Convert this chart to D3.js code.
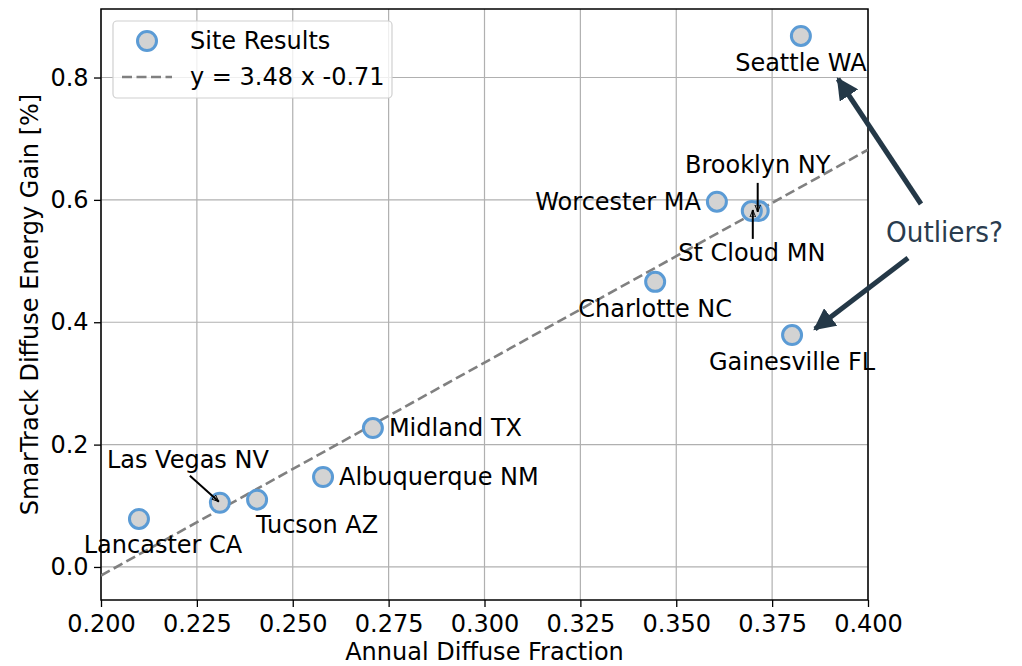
<!DOCTYPE html>
<html>
<head>
<meta charset="utf-8">
<script src="https://cdn.jsdelivr.net/npm/d3@7"></script>
<style>
  body { margin: 0; background: #fff; }
  svg text { font-family: "DejaVu Sans", sans-serif; fill: #000; }
</style>
</head>
<body>
<svg id="chart" width="1022" height="666"></svg>
<script>
// site data
var sites = ["Seattle WA", "Worcester MA", "Brooklyn NY", "St Cloud MN", "Charlotte NC",
             "Gainesville FL", "Midland TX", "Albuquerque NM", "Tucson AZ", "Las Vegas NV", "Lancaster CA"];
var diffuseFraction = [0.3825, 0.3606, 0.3715, 0.3697, 0.3445, 0.3802, 0.2709, 0.2579, 0.2407, 0.2310, 0.2099];
var energyGain = [0.868, 0.597, 0.582, 0.582, 0.466, 0.379, 0.227, 0.147, 0.110, 0.105, 0.0785];

var xTicks = [0.200, 0.225, 0.250, 0.275, 0.300, 0.325, 0.350, 0.375, 0.400];
var yTicks = [0.0, 0.2, 0.4, 0.6, 0.8];
var fitSlope = 3.48, fitIntercept = -0.71;

// label placement (offsets in px from the point)
var labelPos = {
  "Seattle WA":     {dx: 0,   dy: 27,  anchor: "middle"},
  "Worcester MA":   {dx: -16, dy: 0,   anchor: "end"},
  "Brooklyn NY":    {dx: -1,  dy: -46, anchor: "middle", arrow: true},
  "St Cloud MN":    {dx: 0,   dy: 42,  anchor: "middle", arrow: true},
  "Charlotte NC":   {dx: 0,   dy: 27,  anchor: "middle"},
  "Gainesville FL": {dx: 0,   dy: 27,  anchor: "middle"},
  "Midland TX":     {dx: 16,  dy: 0,   anchor: "start"},
  "Albuquerque NM": {dx: 16,  dy: 0,   anchor: "start"},
  "Tucson AZ":      {dx: 60,  dy: 25,  anchor: "middle"},
  "Las Vegas NV":   {dx: -32, dy: -43, anchor: "middle", arrow: true},
  "Lancaster CA":   {dx: 24,  dy: 26,  anchor: "middle"}
};

(function(){
var svg = d3.select("#chart");
var mLeft = 101, mRight = 868, mTop = 9, mBottom = 600;
var fs = 24;

var x = d3.scaleLinear().domain([0.2, 0.4]).range([mLeft, mRight]);
var y = d3.scaleLinear().domain([-0.054, 0.912]).range([mBottom, mTop]);

var defs = svg.append("defs");
defs.append("marker").attr("id", "blackHead")
    .attr("viewBox", "0 0 10 10").attr("refX", 10).attr("refY", 5)
    .attr("markerWidth", 7).attr("markerHeight", 7).attr("markerUnits", "userSpaceOnUse")
    .attr("orient", "auto")
  .append("path").attr("d", "M0,1 L10,5 L0,9 Z").attr("fill", "none").attr("stroke", "#000").attr("stroke-width", 1.3);
defs.append("marker").attr("id", "bigHead")
    .attr("viewBox", "0 0 10 10").attr("refX", 9).attr("refY", 5)
    .attr("markerWidth", 22).attr("markerHeight", 22).attr("markerUnits", "userSpaceOnUse")
    .attr("orient", "auto")
  .append("path").attr("d", "M0,0 L10,5 L0,10 Z").attr("fill", "#243847");

// grid
svg.append("g").selectAll("line").data(xTicks).enter().append("line")
    .attr("x1", function(d){ return x(d); }).attr("x2", function(d){ return x(d); })
    .attr("y1", mTop).attr("y2", mBottom)
    .attr("stroke", "#b0b0b0").attr("stroke-width", 1.2);
svg.append("g").selectAll("line").data(yTicks).enter().append("line")
    .attr("y1", function(d){ return y(d); }).attr("y2", function(d){ return y(d); })
    .attr("x1", mLeft).attr("x2", mRight)
    .attr("stroke", "#b0b0b0").attr("stroke-width", 1.2);

// axes
var xAxis = svg.append("g").attr("transform", "translate(0," + mBottom + ")")
    .call(d3.axisBottom(x).tickValues(xTicks).tickFormat(d3.format(".3f")).tickSize(7).tickSizeOuter(0));
var yAxis = svg.append("g").attr("transform", "translate(" + mLeft + ",0)")
    .call(d3.axisLeft(y).tickValues(yTicks).tickFormat(d3.format(".1f")).tickSize(7).tickSizeOuter(0));
[xAxis, yAxis].forEach(function(a){
  a.select(".domain").remove();
  a.selectAll("line").attr("stroke", "#000").attr("stroke-width", 1.3);
  a.selectAll("text").attr("font-size", fs).attr("font-family", "DejaVu Sans").attr("fill", "#000");
});
xAxis.selectAll("text").attr("dy", "0.9em");
yAxis.selectAll("text").attr("dx", "-0.1em");

svg.append("rect").attr("x", mLeft).attr("y", mTop).attr("width", mRight - mLeft).attr("height", mBottom - mTop)
    .attr("fill", "none").attr("stroke", "#000").attr("stroke-width", 1.5);

// fit line
var clip = defs.append("clipPath").attr("id", "plotClip");
clip.append("rect").attr("x", mLeft).attr("y", mTop).attr("width", mRight - mLeft).attr("height", mBottom - mTop);
svg.append("line").attr("clip-path", "url(#plotClip)")
    .attr("x1", x(0.2)).attr("y1", y(fitSlope * 0.2 + fitIntercept))
    .attr("x2", x(0.4)).attr("y2", y(fitSlope * 0.4 + fitIntercept))
    .attr("stroke", "#808080").attr("stroke-width", 2.6).attr("stroke-dasharray", "10,4.5");

// points
svg.append("g").selectAll("circle").data(sites).enter().append("circle")
    .attr("cx", function(d, i){ return x(diffuseFraction[i]); })
    .attr("cy", function(d, i){ return y(energyGain[i]); })
    .attr("r", 9.5)
    .attr("fill", "#d3d3d3").attr("stroke", "#5b9bd5").attr("stroke-width", 3);

// labels
var lab = svg.append("g");
sites.forEach(function(s, i){
  var p = labelPos[s];
  var px = x(diffuseFraction[i]), py = y(energyGain[i]);
  lab.append("text").attr("x", px + p.dx).attr("y", py + p.dy)
     .attr("text-anchor", p.anchor).attr("dominant-baseline", "central")
     .attr("font-size", fs).text(s);
  if (p.arrow) {
    var sx, sy, ex, ey;
    if (s === "Brooklyn NY") { sx = px - 1; sy = py - 28; ex = px - 1; ey = py + 1; }
    else if (s === "St Cloud MN") { sx = px + 1; sy = py + 28; ex = px + 1; ey = py - 1; }
    else { sx = px - 30; sy = py - 27; ex = px - 1; ey = py - 1; }
    lab.append("line").attr("x1", sx).attr("y1", sy).attr("x2", ex).attr("y2", ey)
       .attr("stroke", "#000").attr("stroke-width", 2).attr("marker-end", "url(#blackHead)");
  }
});

// axis titles
svg.append("text").attr("x", (mLeft + mRight) / 2).attr("y", 660)
   .attr("text-anchor", "middle").attr("font-size", fs).text("Annual Diffuse Fraction");
svg.append("text").attr("transform", "translate(38," + ((mTop + mBottom) / 2) + ") rotate(-90)")
   .attr("text-anchor", "middle").attr("font-size", fs).text("SmarTrack Diffuse Energy Gain [%]");

// legend
var lg = svg.append("g");
lg.append("rect").attr("x", 113).attr("y", 21).attr("width", 279).attr("height", 77).attr("rx", 4)
  .attr("fill", "#fff").attr("fill-opacity", 0.8).attr("stroke", "#d0d0d0").attr("stroke-width", 1.2);
lg.append("circle").attr("cx", 147).attr("cy", 41).attr("r", 9.5)
  .attr("fill", "#d3d3d3").attr("stroke", "#5b9bd5").attr("stroke-width", 3);
lg.append("line").attr("x1", 122).attr("x2", 172).attr("y1", 77).attr("y2", 77)
  .attr("stroke", "#808080").attr("stroke-width", 2.6).attr("stroke-dasharray", "10,4.5");
lg.append("text").attr("x", 190).attr("y", 41).attr("dominant-baseline", "central").attr("font-size", fs).text("Site Results");
lg.append("text").attr("x", 190).attr("y", 77).attr("dominant-baseline", "central").attr("font-size", fs).text("y = 3.48 x -0.71");

// outlier callout
var ann = svg.append("g");
ann.append("text").attr("x", 886).attr("y", 232).attr("dominant-baseline", "central")
   .attr("font-family", "Liberation Sans Narrow, Liberation Sans, sans-serif").attr("font-size", 29)
   .attr("textLength", 117).attr("lengthAdjust", "spacingAndGlyphs")
   .style("fill", "#2a3c4e").text("Outliers?");
ann.append("line").attr("x1", 921).attr("y1", 204).attr("x2", 838).attr("y2", 79)
   .attr("stroke", "#243847").attr("stroke-width", 5).attr("marker-end", "url(#bigHead)");
ann.append("line").attr("x1", 908).attr("y1", 258).attr("x2", 815).attr("y2", 329)
   .attr("stroke", "#243847").attr("stroke-width", 5).attr("marker-end", "url(#bigHead)");
})();
</script>
</body>
</html>
